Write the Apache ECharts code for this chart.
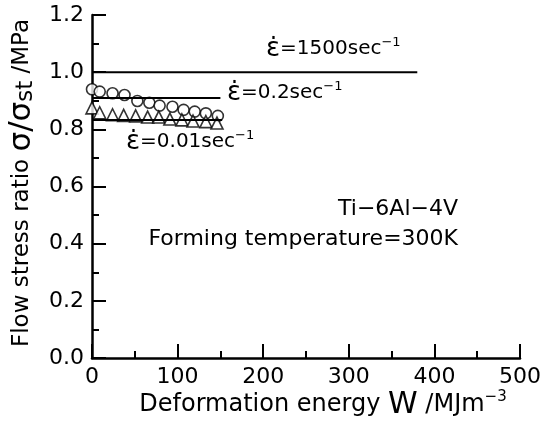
<!DOCTYPE html>
<html><head><meta charset="utf-8">
<script src="https://cdn.jsdelivr.net/npm/echarts@6/dist/echarts.min.js"></script>
<style>html,body{margin:0;padding:0;background:#fff}#c{width:559px;height:430px}</style>
</head><body><div id="c"></div>
<script>
const xTicks = [0, 100, 200, 300, 400, 500];
const yTicks = [0.0, 0.2, 0.4, 0.6, 0.8, 1.0, 1.2];
const line1500 = [[0, 1.0], [380, 1.0]];
const line02 = [[0, 0.91], [150, 0.91]];
const line001 = [[0, 0.833], [152, 0.833]];
const circlesW = [0, 9, 24, 38, 53, 67, 79, 94, 107, 120, 133, 147];
const circlesS = [0.94, 0.932, 0.926, 0.92, 0.899, 0.893, 0.883, 0.879, 0.868, 0.862, 0.856, 0.847];
const triW = [0, 9, 24, 37, 51, 65, 78, 91, 105, 118, 133, 146];
const triS = [0.875, 0.858, 0.851, 0.849, 0.847, 0.843, 0.843, 0.836, 0.833, 0.829, 0.827, 0.822];

const F = 'DejaVu Sans';
const chart = echarts.init(document.getElementById('c'));
const richEps = {
  e: {fontFamily: F, fontSize: 26, color: '#000'},
  t: {fontFamily: F, fontSize: 20, color: '#000'},
  s: {fontFamily: F, fontSize: 13, color: '#000', verticalAlign: 'top', padding: [0, 0, 8, 0]}
};
function txt(x, y, str, rich, align) {
  return {type: 'text', x: x, y: y, style: {text: str, rich: rich, align: align || 'left', verticalAlign: 'middle', fill: '#000', font: '20px ' + F}};
}
const tickStyle = {color: '#000', width: 2};
chart.setOption({
  animation: false,
  backgroundColor: '#fff',
  grid: {left: 92, top: 15, width: 428, height: 343},
  xAxis: {
    type: 'value', min: 0, max: 500, interval: 100,
    axisLine: {lineStyle: {color: '#000', width: 2.5}},
    axisTick: {inside: true, length: 14, lineStyle: tickStyle},
    minorTick: {show: true, splitNumber: 2, length: 7, lineStyle: tickStyle},
    splitLine: {show: false},
    axisLabel: {color: '#000', fontFamily: F, fontSize: 22, margin: 8, formatter: v => xTicks.includes(v) ? String(v) : ''}
  },
  yAxis: {
    type: 'value', min: 0, max: 1.2, interval: 0.2,
    axisLine: {show: true, lineStyle: {color: '#000', width: 2.5}},
    axisTick: {show: true, inside: true, length: 14, lineStyle: tickStyle},
    minorTick: {show: true, splitNumber: 2, length: 7, lineStyle: tickStyle},
    splitLine: {show: false},
    axisLabel: {color: '#000', fontFamily: F, fontSize: 22, margin: 8, formatter: v => v.toFixed(1)}
  },
  series: [
    {type: 'line', data: line1500, symbol: 'none', lineStyle: {color: '#000', width: 2}},
    {type: 'line', data: line02, symbol: 'none', lineStyle: {color: '#000', width: 2}},
    {type: 'line', data: line001, symbol: 'none', lineStyle: {color: '#000', width: 2}},
    {type: 'scatter', data: circlesW.map((w, i) => [w, circlesS[i]]), symbol: 'circle', symbolSize: 11,
      itemStyle: {color: '#fff', borderColor: '#000', borderWidth: 1.6}},
    {type: 'scatter', data: triW.map((w, i) => [w, triS[i]]), symbol: 'triangle', symbolSize: 12,
      itemStyle: {color: '#fff', borderColor: '#000', borderWidth: 1.6}}
  ],
  graphic: [
    txt(266, 49, '{e|ε̇}{t|=1500sec}{s|−1}', richEps),
    txt(227, 93, '{e|ε̇}{t|=0.2sec}{s|−1}', richEps),
    txt(126, 142, '{e|ε̇}{t|=0.01sec}{s|−1}', richEps),
    {type: 'text', x: 458, y: 209, style: {text: 'Ti−6Al−4V', align: 'right', verticalAlign: 'middle', fill: '#000', font: '22px ' + F}},
    {type: 'text', x: 458, y: 239, style: {text: 'Forming temperature=300K', align: 'right', verticalAlign: 'middle', fill: '#000', font: '22px ' + F}},
    {type: 'text', x: 323, y: 405, style: {
      text: '{a|Deformation energy }{w|W}{a| /MJm}{s|−3}', align: 'center', verticalAlign: 'middle',
      rich: {a: {fontFamily: F, fontSize: 24, color: '#000'}, w: {fontFamily: F, fontSize: 30, color: '#000'},
             s: {fontFamily: F, fontSize: 15, color: '#000', verticalAlign: 'top', padding: [0, 0, 12, 0]}}}},
    {type: 'text', x: 22, y: 183, rotation: Math.PI / 2, style: {
      text: '{a|Flow stress ratio }{b|σ/σ}{c|st}{a| /MPa}', align: 'center', verticalAlign: 'middle',
      rich: {a: {fontFamily: F, fontSize: 23, color: '#000'}, b: {fontFamily: F, fontSize: 31, color: '#000'},
             c: {fontFamily: F, fontSize: 23, color: '#000', verticalAlign: 'bottom'}}}}
  ]
});
</script></body></html>
